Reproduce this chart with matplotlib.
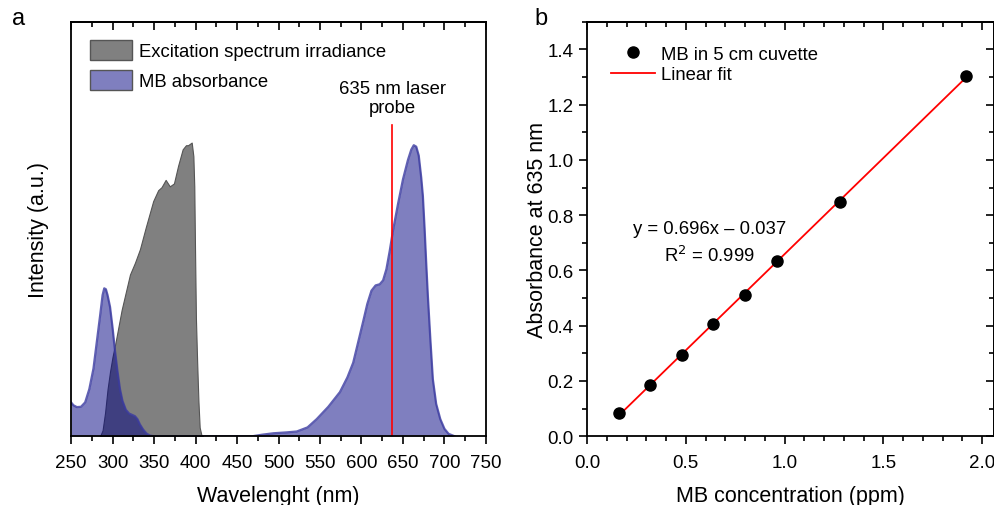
import numpy as np
import matplotlib.pyplot as plt
from matplotlib.patches import Patch
from matplotlib.lines import Line2D
from matplotlib.ticker import MultipleLocator, NullFormatter

plt.rcParams['font.family'] = ['Liberation Sans', 'DejaVu Sans']

# excitation spectrum (gray)
exc_wl = [285, 288, 291, 294, 297, 300, 303, 307, 311, 316, 321, 327, 333, 340, 345, 349, 355, 359, 364, 369, 374,
          379, 384.5, 388.5, 391, 395.4, 397.4, 398.5, 399.4, 400.5, 402, 403.5, 405, 407, 409]
exc_int = [0, 0.02, 0.08, 0.16, 0.22, 0.27, 0.31, 0.37, 0.43, 0.49, 0.55, 0.59, 0.636, 0.71, 0.76, 0.80, 0.837, 0.847, 0.872, 0.85, 0.86,
           0.92, 0.976, 0.99, 0.99, 0.999, 0.953, 0.85, 0.636, 0.40, 0.25, 0.12, 0.03, 0.005, 0]

# MB absorbance (blue)
mb_wl = [250, 253, 257, 262, 267, 272, 277, 281, 285, 288, 290, 292, 294, 297, 300, 303, 306, 309, 312, 316, 320, 324, 327,
         330, 333, 337, 341, 345, 350, 400, 469, 480, 494, 510, 522, 535, 546, 560, 574, 583, 590, 596, 602, 607, 612, 617,
         622, 626, 630, 634, 638, 644, 650, 656, 660, 663, 666, 669, 672, 674, 676, 678, 680, 683, 686, 690, 695, 700, 705, 712]
mb_abs = [0.115, 0.105, 0.099, 0.10, 0.115, 0.16, 0.23, 0.32, 0.41, 0.48, 0.503, 0.50, 0.48, 0.44, 0.37, 0.29, 0.22, 0.16, 0.12,
          0.09, 0.077, 0.072, 0.068, 0.058, 0.04, 0.022, 0.009, 0.002, 0, 0, 0, 0.005, 0.01, 0.013, 0.016, 0.03, 0.058, 0.10,
          0.15, 0.20, 0.25, 0.32, 0.39, 0.45, 0.495, 0.513, 0.517, 0.53, 0.568, 0.63, 0.70, 0.79, 0.874, 0.94, 0.975, 0.99,
          0.985, 0.955, 0.88, 0.817, 0.71, 0.59, 0.477, 0.33, 0.194, 0.11, 0.058, 0.025, 0.008, 0]

laser_wl = 637

# calibration
conc = [0.16, 0.32, 0.48, 0.64, 0.80, 0.96, 1.28, 1.92]
absorb = [0.085, 0.185, 0.295, 0.405, 0.51, 0.635, 0.848, 1.305]
slope, intercept = 0.696, -0.037

fs_tick, fs_lab, fs_txt = 13.5, 15.5, 13.3

fig = plt.figure(figsize=(9.95, 5.06), dpi=100)
ax1 = fig.add_axes([0.0714, 0.136, 0.4170, 0.819])
ax2 = fig.add_axes([0.590, 0.136, 0.409, 0.819])

# panel a
ax1.fill_between(exc_wl, exc_int, color='#808080', edgecolor='#555555', linewidth=0.8)
ax1.fill_between(mb_wl, mb_abs, color=(0, 0, 0.5), alpha=0.5, linewidth=0)
ax1.plot(mb_wl, mb_abs, color='#3a3aa0', linewidth=1.6, alpha=0.8)
ax1.plot([laser_wl, laser_wl], [0, 1.06], color='red', linewidth=1.2)
ax1.text(laser_wl, 1.09, '635 nm laser\nprobe', ha='center', va='bottom', fontsize=fs_txt, linespacing=1.15)
ax1.set_xlim(250, 750)
ax1.set_ylim(0, 1.41)
ax1.set_yticks([])
ax1.xaxis.set_major_locator(MultipleLocator(50))
ax1.xaxis.set_minor_locator(MultipleLocator(25))
ax1.tick_params(axis='x', which='both', direction='out', labelsize=fs_tick, width=1.2, pad=7)
ax1.tick_params(axis='x', which='major', length=6)
ax1.tick_params(axis='x', which='minor', length=3.5)
ax1.set_xlabel('Wavelenght (nm)', fontsize=fs_lab, labelpad=10)
ax1.set_ylabel('Intensity (a.u.)', fontsize=fs_lab, labelpad=16)
ax1.legend(handles=[Patch(facecolor='#808080', edgecolor='#555555', label='Excitation spectrum irradiance'),
                    Patch(facecolor='#7f7fbf', edgecolor='#555555', label='MB absorbance')],
           loc='upper left', frameon=False, fontsize=fs_txt, handlelength=2.3, handleheight=1.3,
           borderaxespad=0.6, handletextpad=0.4, labelspacing=0.5)
top1 = ax1.secondary_xaxis('top')
top1.xaxis.set_major_locator(MultipleLocator(50))
top1.xaxis.set_minor_locator(MultipleLocator(25))
top1.xaxis.set_major_formatter(NullFormatter())
top1.tick_params(which='both', direction='in', width=1.2)
top1.tick_params(which='major', length=6)
top1.tick_params(which='minor', length=3.5)
fig.text(0.012, 0.962, 'a', fontsize=17, va='center')

# panel b
xf = np.array([conc[0], conc[-1]])
ax2.plot(xf, slope * xf + intercept, color='red', linewidth=1.3, zorder=2)
ax2.plot(conc, absorb, 'o', color='black', markersize=8, zorder=3)
ax2.text(0.62, 0.75, 'y = 0.696x \u2013 0.037', ha='center', va='center', fontsize=fs_txt)
ax2.text(0.62, 0.655, 'R$^2$ = 0.999', ha='center', va='center', fontsize=fs_txt)
ax2.set_xlim(0, 2.06)
ax2.set_ylim(0, 1.5)
ax2.xaxis.set_major_locator(MultipleLocator(0.5))
ax2.xaxis.set_minor_locator(MultipleLocator(0.1))
ax2.yaxis.set_major_locator(MultipleLocator(0.2))
ax2.yaxis.set_minor_locator(MultipleLocator(0.1))
ax2.tick_params(which='both', direction='out', labelsize=fs_tick, width=1.2)
ax2.tick_params(axis='x', which='both', pad=7)
ax2.tick_params(which='major', length=6)
ax2.tick_params(which='minor', length=3.5)
ax2.set_xlabel('MB concentration (ppm)', fontsize=fs_lab, labelpad=10)
ax2.set_ylabel('Absorbance at 635 nm', fontsize=fs_lab, labelpad=0)
ax2.legend(handles=[Line2D([], [], marker='o', color='black', linestyle='none', markersize=8, label='MB in 5 cm cuvette'),
                    Line2D([], [], color='red', linewidth=1.3, label='Linear fit')],
           loc='upper left', frameon=False, fontsize=fs_txt, handlelength=2.4, borderaxespad=0.9,
           handletextpad=0.3, labelspacing=0.2)
top2 = ax2.secondary_xaxis('top')
right2 = ax2.secondary_yaxis('right')
for sec, axis in ((top2, top2.xaxis), (right2, right2.yaxis)):
    axis.set_major_formatter(NullFormatter())
    sec.tick_params(which='both', direction='in', width=1.2)
    sec.tick_params(which='major', length=6)
    sec.tick_params(which='minor', length=3.5)
top2.xaxis.set_major_locator(MultipleLocator(0.5))
top2.xaxis.set_minor_locator(MultipleLocator(0.1))
right2.yaxis.set_major_locator(MultipleLocator(0.2))
right2.yaxis.set_minor_locator(MultipleLocator(0.1))
fig.text(0.537, 0.962, 'b', fontsize=17, va='center')

for ax in (ax1, ax2, top1, top2, right2):
    for s in ax.spines.values():
        s.set_linewidth(1.3)

fig.savefig('out.png', dpi=100)
